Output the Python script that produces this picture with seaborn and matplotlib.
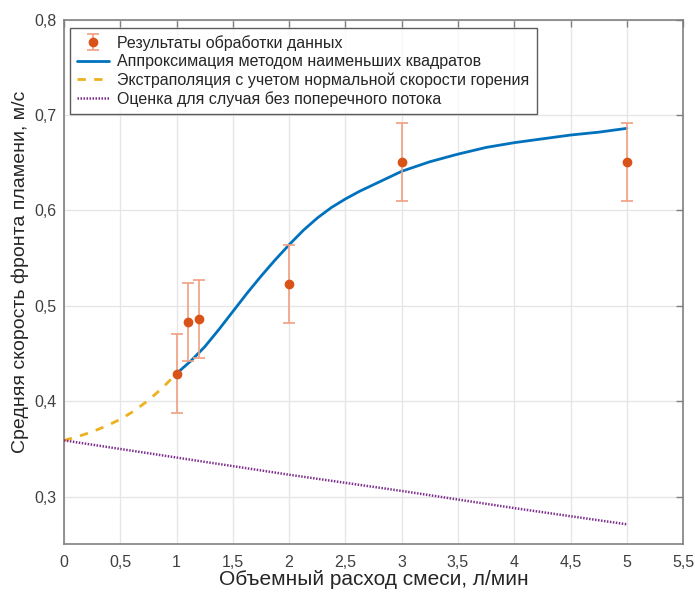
import matplotlib
matplotlib.use("Agg")
import matplotlib.pyplot as plt
import seaborn as sns

# Experimental data
data_x = [1.0, 1.1, 1.2, 2.0, 3.0, 5.0]
data_y = [0.429, 0.483, 0.486, 0.523, 0.651, 0.651]
data_err = [0.041, 0.041, 0.041, 0.041, 0.041, 0.041]

# Least squares approximation
fit_x = [1.0, 1.125, 1.25, 1.375, 1.5, 1.625, 1.75, 1.875, 2.0, 2.125, 2.25, 2.375,
         2.5, 2.625, 2.75, 2.875, 3.0, 3.25, 3.5, 3.75, 4.0, 4.25, 4.5, 4.75, 5.0]
fit_y = [0.429, 0.442, 0.457, 0.475, 0.494, 0.513, 0.531, 0.548, 0.564, 0.579, 0.592, 0.603,
         0.612, 0.620, 0.627, 0.634, 0.641, 0.651, 0.659, 0.666, 0.671, 0.675, 0.679, 0.682, 0.686]

# Extrapolation
ext_x = [0.0, 0.125, 0.25, 0.375, 0.5, 0.625, 0.75, 0.875, 1.0]
ext_y = [0.359, 0.363, 0.368, 0.374, 0.381, 0.390, 0.401, 0.414, 0.429]

# Estimate without cross flow
est_x = [0.0, 1.0, 2.0, 3.0, 4.0, 5.0]
est_y = [0.359, 0.341, 0.323, 0.306, 0.288, 0.271]

labels = ["Результаты обработки данных",
          "Аппроксимация методом наименьших квадратов",
          "Экстраполяция с учетом нормальной скорости горения",
          "Оценка для случая без поперечного потока"]

xticks = [0, 0.5, 1, 1.5, 2, 2.5, 3, 3.5, 4, 4.5, 5, 5.5]
yticks = [0.3, 0.4, 0.5, 0.6, 0.7, 0.8]

sns.set_style("whitegrid")
plt.rcParams['font.family'] = ['Liberation Sans', 'DejaVu Sans']

fig = plt.figure(figsize=(6.95, 5.93), dpi=100)
ax = fig.add_axes([0.092, 0.082, 0.891, 0.885])

blue = "#0072BD"
orange = "#D95319"
yellow = "#EDB120"
purple = "#7E2F8E"

ax.errorbar(data_x, data_y, yerr=data_err, fmt='o', color=orange, ms=6,
            ecolor="#F0A080", elinewidth=1.2, capsize=4, capthick=1.2,
            label=labels[0], zorder=4)
sns.lineplot(x=fit_x, y=fit_y, ax=ax, color=blue, lw=2, label=labels[1], zorder=3)
sns.lineplot(x=ext_x, y=ext_y, ax=ax, color=yellow, lw=2, linestyle=(0, (3, 3)), label=labels[2], zorder=3)
sns.lineplot(x=est_x, y=est_y, ax=ax, color=purple, lw=1.8, linestyle=(0, (0.6, 0.6)), label=labels[3], zorder=3)

ax.set_xlim(0, 5.5)
ax.set_ylim(0.25, 0.8)
ax.set_xticks(xticks)
ax.set_xticklabels([("%g" % v).replace('.', ',') for v in xticks])
ax.set_yticks(yticks)
ax.set_yticklabels([("%g" % v).replace('.', ',') for v in yticks])

ax.grid(True, color="#e6e6e6", lw=1)
for s in ax.spines.values():
    s.set_color("#808080")
    s.set_linewidth(1.2)
ax.tick_params(direction='in', length=5, width=1, color="#808080",
               labelsize=11.5, labelcolor="#404040", top=True, right=True)
ax.tick_params(axis='x', pad=8)
ax.tick_params(axis='y', pad=5)

ax.set_xlabel("Объемный расход смеси, л/мин", fontsize=15, color="#262626", labelpad=0)
ax.set_ylabel("Средняя скорость фронта пламени, м/с", fontsize=14, color="#262626")
ax.yaxis.set_label_coords(-0.056, 0.52)

handles, labs = ax.get_legend_handles_labels()
order = [labs.index(l) for l in labels]
leg = ax.legend([handles[i] for i in order], [labs[i] for i in order],
                loc='upper left', bbox_to_anchor=(0.0097, 0.984), fontsize=11.5,
                frameon=True, fancybox=False, edgecolor="#333333",
                handlelength=2.0, handletextpad=0.5, borderpad=0.45,
                labelspacing=0.2, borderaxespad=0.0)
leg.get_frame().set_linewidth(1.0)

fig.savefig("out.png", dpi=100)
